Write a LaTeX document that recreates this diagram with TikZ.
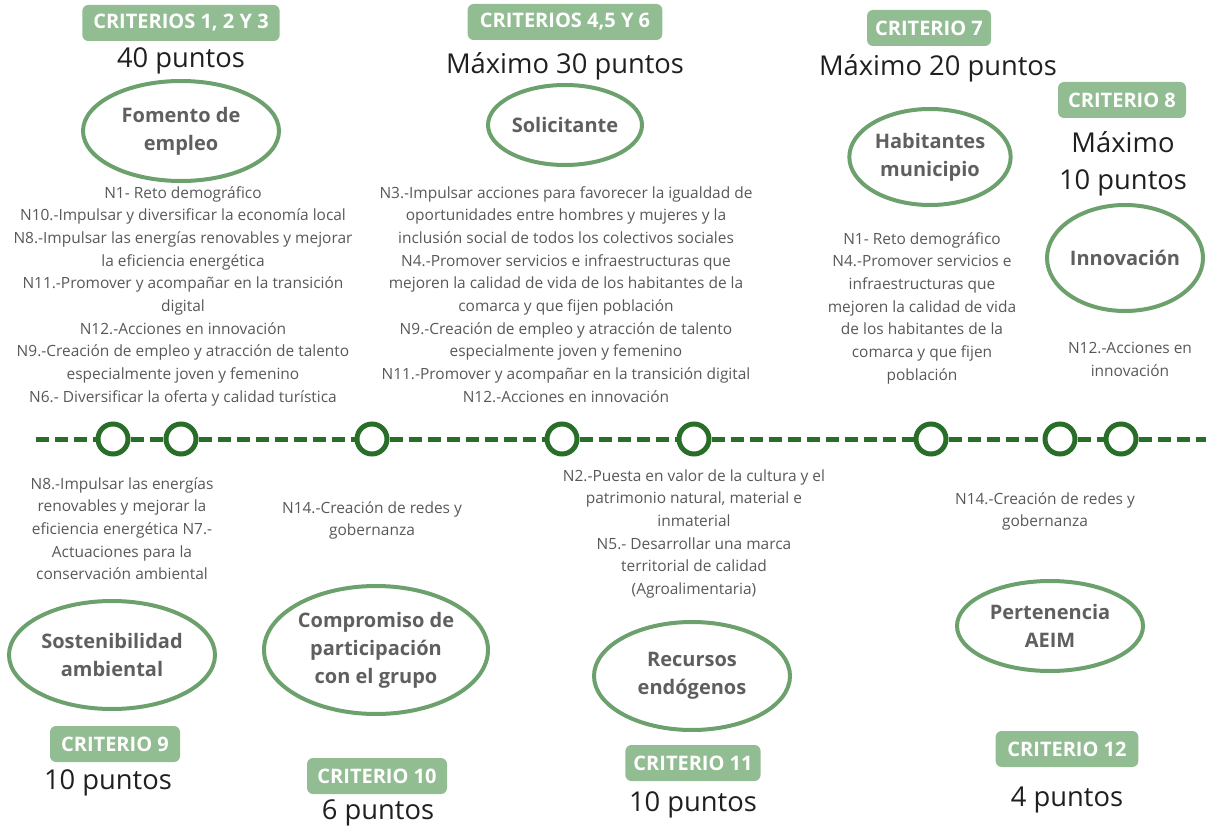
\documentclass[tikz,border=0pt]{standalone}
\usepackage{fontspec}
\setmainfont{Open Sans}
\usepackage{xcolor}
\usetikzlibrary{shapes.geometric,positioning}

\definecolor{critfill}{RGB}{146,189,146}
\definecolor{ringgreen}{RGB}{108,160,108}
\definecolor{linegreen}{RGB}{40,110,40}
\definecolor{notegray}{RGB}{88,88,88}
\definecolor{topicgray}{RGB}{95,95,95}

\begin{document}
\begin{tikzpicture}[x=0.75pt,y=-0.75pt,
  crit/.style={fill=critfill,rounded corners=4.5pt,text=white,font=\fontsize{15}{18}\selectfont\bfseries,minimum height=27pt,inner xsep=6pt},
  pts/.style={text=black!88,font=\fontsize{20.5}{28}\selectfont,align=center,inner sep=0pt},
  topic/.style={ellipse,draw=ringgreen,line width=3pt,align=center,text=topicgray,font=\fontsize{15}{21}\selectfont\bfseries,inner sep=0pt},
  note/.style={align=center,text=notegray,font=\fontsize{11.6}{17}\selectfont,inner sep=0pt,anchor=north},
  dot/.style={circle,draw=linegreen,line width=3.75pt,fill=white,minimum size=22.5pt,inner sep=0pt},
  tline/.style={draw=linegreen,line width=3.75pt,dash pattern=on 9.75pt off 4.5pt}
]
\useasboundingbox (0,0) rectangle (1206,827);

% upper criteria
\node[crit,minimum width=148pt] (c123) at (181,23) {CRITERIOS 1, 2 Y 3};
\node[pts] (p123) at (181,61) {40 puntos};
\node[topic,minimum width=147pt,minimum height=75pt] (empleo) at (181,131) {Fomento de\\empleo};
\node[note] (nempleo) at (183,186) {N1- Reto demográfico\\
  N10.-Impulsar y diversificar la economía local\\
  N8.-Impulsar las energías renovables y mejorar\\
  la eficiencia energética\\
  N11.-Promover y acompañar en la transición\\
  digital\\
  N12.-Acciones en innovación\\
  N9.-Creación de empleo y atracción de talento\\
  especialmente joven y femenino\\
  N6.- Diversificar la oferta y calidad turística};

\node[crit,minimum width=146pt] (c456) at (565,22) {CRITERIOS 4,5 Y 6};
\node[pts] (p456) at (565,66) {Máximo 30 puntos};
\node[topic,minimum width=115.5pt,minimum height=60pt] (solic) at (565,125) {Solicitante};
\node[note] (nsolic) at (566,186) {N3.-Impulsar acciones para favorecer la igualdad de\\
  oportunidades entre hombres y mujeres y la\\
  inclusión social de todos los colectivos sociales\\
  N4.-Promover servicios e infraestructuras que\\
  mejoren la calidad de vida de los habitantes de la\\
  comarca y que fijen población\\
  N9.-Creación de empleo y atracción de talento\\
  especialmente joven y femenino\\
  N11.-Promover y acompañar en la transición digital\\
  N12.-Acciones en innovación};

\node[crit,minimum width=93pt] (c7) at (929,28) {CRITERIO 7};
\node[pts] (p7) at (938,68) {Máximo 20 puntos};
\node[topic,minimum width=121pt,minimum height=72pt] (habit) at (930,157) {Habitantes\\municipio};
\node[note] (nhabit) at (922,232) {N1- Reto demográfico\\
  N4.-Promover servicios e\\
  infraestructuras que\\
  mejoren la calidad de vida\\
  de los habitantes de la\\
  comarca y que fijen\\
  población};

\node[crit,minimum width=96pt] (c8) at (1122,100) {CRITERIO 8};
\node[pts] (p8) at (1123,164) {Máximo\\10 puntos};
\node[topic,minimum width=117pt,minimum height=79.5pt] (innov) at (1125,258) {Innovación};
\node[note] (ninnov) at (1130,342) {N12.-Acciones en\\innovación};

% timeline
\coordinate (tstart) at (36,439);
\coordinate (tend) at (1206,439);
\foreach \n/\x in {1/113,2/181,3/372,4/562,5/694,6/931,7/1060,8/1121}
  \node[dot] (d\n) at (\x,439) {};
\draw[tline] (tstart) -- (d1) -- (d2) -- (d3) -- (d4) -- (d5) -- (d6) -- (d7) -- (d8) -- (tend);

% lower criteria
\node[note] (nsost) at (122,477) {N8.-Impulsar las energías\\
  renovables y mejorar la\\
  eficiencia energética N7.-\\
  Actuaciones para la\\
  conservación ambiental};
\node[topic,minimum width=154.5pt,minimum height=81pt] (sost) at (112,655) {Sostenibilidad\\ambiental};
\node[crit,minimum width=97.5pt] (c9) at (115,744) {CRITERIO 9};
\node[pts] (p9) at (108,783) {10 puntos};

\node[note] (ncomp) at (372,501) {N14.-Creación de redes y\\gobernanza};
\node[topic,minimum width=168pt,minimum height=96pt] (comp) at (376,650) {Compromiso de\\participación\\con el grupo};
\node[crit,minimum width=105pt] (c10) at (377,776) {CRITERIO 10};
\node[pts] (p10) at (378,813) {6 puntos};

\node[note] (nrecur) at (694,469) {N2.-Puesta en valor de la cultura y el\\
  patrimonio natural, material e\\
  inmaterial\\
  N5.- Desarrollar una marca\\
  territorial de calidad\\
  (Agroalimentaria)};
\node[topic,minimum width=147pt,minimum height=81pt] (recur) at (692,676) {Recursos\\endógenos};
\node[crit,minimum width=100pt] (c11) at (693,763) {CRITERIO 11};
\node[pts] (p11) at (693,805) {10 puntos};

\node[note] (naeim) at (1045,492) {N14.-Creación de redes y\\gobernanza};
\node[topic,minimum width=139.5pt,minimum height=67.5pt] (aeim) at (1050,626) {Pertenencia\\AEIM};
\node[crit,minimum width=107pt] (c12) at (1067,749) {CRITERIO 12};
\node[pts] (p12) at (1067,800) {4 puntos};
\end{tikzpicture}
\end{document}
